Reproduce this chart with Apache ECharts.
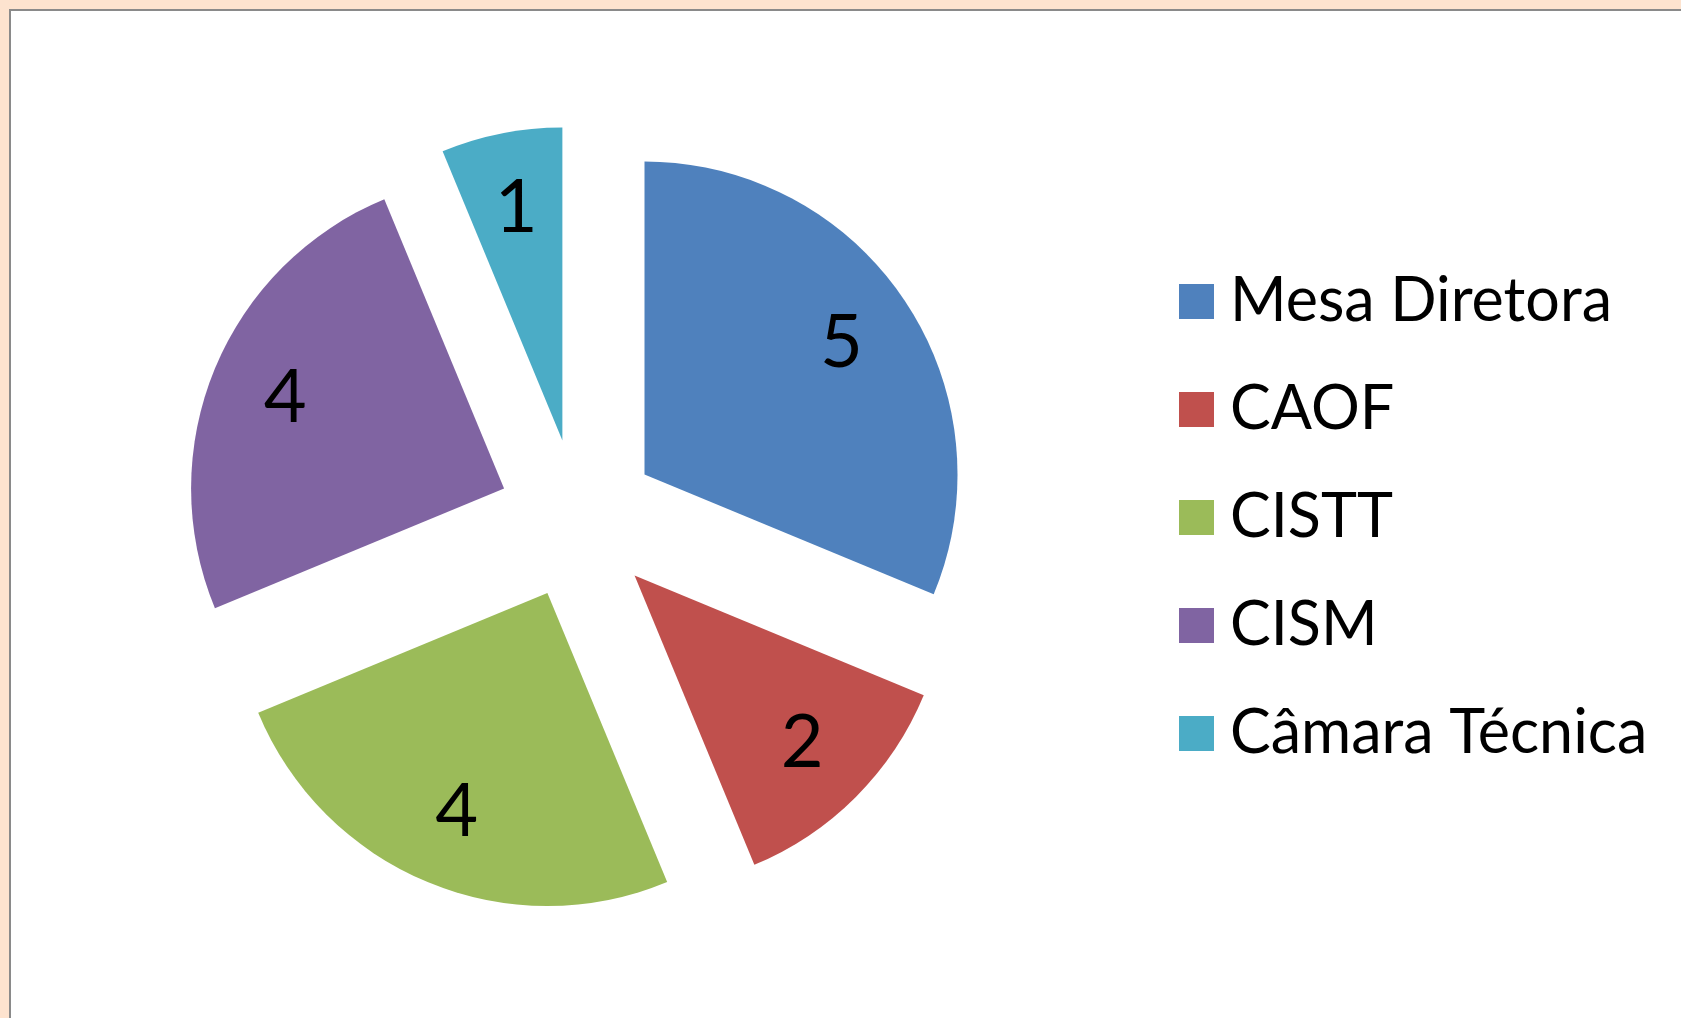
<!DOCTYPE html>
<html>
<head>
<meta charset="utf-8">
<script src="https://cdn.jsdelivr.net/npm/echarts@6/dist/echarts.min.js"></script>
<style>
  html, body { margin: 0; padding: 0; background: #fde3cf; }
  .frame {
    position: absolute; left: 9px; top: 9px; width: 1672px; height: 1009px;
    background: #fff; border-left: 2px solid #8a8a8a; border-top: 2px solid #8a8a8a;
    box-sizing: border-box;
  }
  #chart { position: absolute; left: -11px; top: -11px; width: 1681px; height: 1018px; }
</style>
</head>
<body>
<div class="frame"><div id="chart"></div></div>
<script>
// dados do gráfico
const categories = ["Mesa Diretora", "CAOF", "CISTT", "CISM", "Câmara Técnica"];
const values = [5, 2, 4, 4, 1];
const colors = ["#4f81bd", "#c0504d", "#9bbb59", "#8064a2", "#4bacc6"];

const myChart = echarts.init(document.getElementById("chart"));

const pieData = categories.map((name, i) => ({ name: name, value: values[i], selected: true }));

const option = {
  animation: false,
  color: colors,
  legend: {
    orient: "vertical",
    left: 1174,
    top: 266,
    data: categories,
    icon: "rect",
    itemWidth: 35,
    itemHeight: 35,
    itemGap: 47,
    selectedMode: false,
    textStyle: {
      fontFamily: "Lato",
      fontSize: 61,
      color: "#000",
      padding: [0, 0, 0, 11],
    },
  },
  series: [
    {
      // fatias
      type: "pie",
      center: [578, 519],
      radius: [0, 313],
      startAngle: 90,
      clockwise: true,
      selectedMode: "multiple",
      selectedOffset: 80,
      silent: true,
      label: { show: false },
      labelLine: { show: false },
      emphasis: { disabled: true },
      data: pieData,
    },
    {
      // só os rótulos (anel transparente pra empurrar o texto pra fora)
      type: "pie",
      center: [578, 519],
      radius: [155, 313],
      startAngle: 90,
      clockwise: true,
      selectedMode: "multiple",
      selectedOffset: 80,
      silent: true,
      itemStyle: { color: "rgba(0,0,0,0)" },
      label: {
        show: true,
        position: "inside",
        formatter: "{c}",
        fontFamily: "Lato",
        fontSize: 74,
        color: "#000",
      },
      labelLine: { show: false },
      emphasis: { disabled: true },
      data: pieData,
    },
  ],
};

myChart.setOption(option);
</script>
</body>
</html>
